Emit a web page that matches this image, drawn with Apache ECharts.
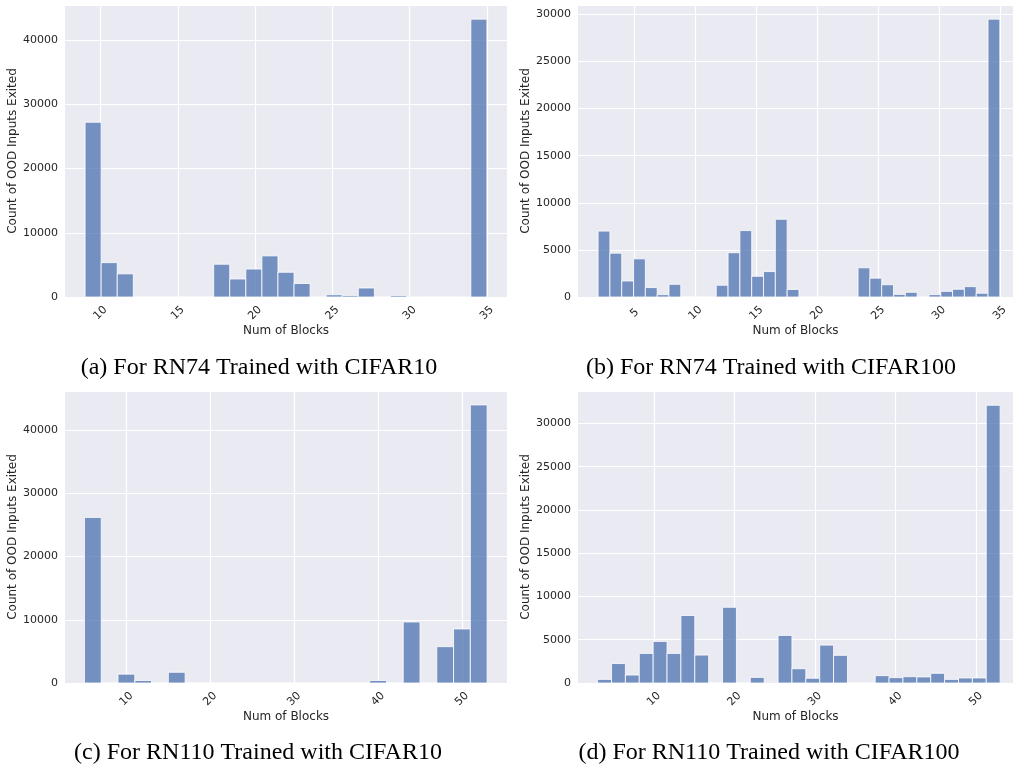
<!DOCTYPE html>
<html>
<head>
<meta charset="utf-8">
<script src="https://cdn.jsdelivr.net/npm/echarts@6/dist/echarts.min.js"></script>
<style>
  html, body { margin: 0; padding: 0; background: #fff; }
  #chart { width: 1013px; height: 770px; }
</style>
</head>
<body>
<div id="chart"></div>
<script>
// histogram bins: first edge and bin width per panel
var binStartA = 9, binWidthA = 26 / 25
var binStartB = 2, binWidthB = 33 / 34
var binStartC = 5, binWidthC = 2
var binStartD = 3, binWidthD = 50 / 29

// counts per bin
var countsA = [27200, 5350, 3600, 0, 0, 0, 0, 0, 5100, 2800, 4350, 6400, 3850, 2100,
  50, 350, 250, 1400, 0, 250, 60, 0, 0, 30, 43250]
var countsB = [7000, 4650, 1700, 4050, 1000, 250, 1350, 0, 0, 0, 1250, 4700, 7050, 2200,
  2700, 8250, 800, 0, 0, 0, 0, 0, 3100, 2000, 1300, 280, 500, 0, 250, 600, 820, 1100, 400, 29500]
var countsC = [26200, 0, 1400, 400, 0, 1700, 0, 0, 0, 0, 0, 0, 0, 0, 0, 0, 0, 400, 0,
  9650, 0, 5750, 8550, 44000]
var countsD = [420, 2250, 920, 3420, 4800, 3420, 7800, 3230, 0, 8750, 0, 650, 80, 5500,
  1650, 550, 4380, 3200, 0, 0, 850, 620, 730, 700, 1120, 420, 580, 580, 32100]

// tick labels
var xTicksA = [10, 15, 20, 25, 30, 35]
var xTicksB = [5, 10, 15, 20, 25, 30, 35]
var xTicksC = [10, 20, 30, 40, 50]
var xTicksD = [10, 20, 30, 40, 50]

var captions = [
  '(a) For RN74 Trained with CIFAR10',
  '(b) For RN74 Trained with CIFAR100',
  '(c) For RN110 Trained with CIFAR10',
  '(d) For RN110 Trained with CIFAR100'
]

var textColor = '#262626'
var font = 'DejaVu Sans'
var captionFont = '24px "Liberation Serif"'

function bins (start, width, counts) {
  var out = []
  for (var i = 0; i < counts.length; i++) {
    out.push([start + width * i, start + width * (i + 1), counts[i]])
  }
  return out
}

function renderBar (params, api) {
  var p0 = api.coord([api.value(0), api.value(2)])
  var p1 = api.coord([api.value(1), 0])
  return {
    type: 'rect',
    shape: { x: p0[0], y: p0[1], width: p1[0] - p0[0], height: p1[1] - p0[1] },
    style: { fill: 'rgba(76,114,176,0.75)', stroke: '#ffffff', lineWidth: 0.8 }
  }
}

var grids = [
  { left: 65, top: 5, width: 442, height: 292 },
  { left: 578, top: 5, width: 435, height: 292 },
  { left: 65, top: 391, width: 442, height: 292 },
  { left: 578, top: 391, width: 435, height: 292 }
]
grids.forEach(function (g) {
  g.show = true
  g.backgroundColor = '#EAEAF2'
  g.borderWidth = 0
  g.containLabel = false
})

function xAxis (idx, min, max, ticks) {
  return {
    type: 'value',
    gridIndex: idx,
    min: min,
    max: max,
    name: 'Num of Blocks',
    nameLocation: 'middle',
    nameGap: 28,
    nameTextStyle: { fontFamily: font, fontSize: 12, color: textColor },
    axisLine: { show: false },
    axisTick: { show: false, customValues: ticks },
    axisLabel: {
      customValues: ticks,
      rotate: 45,
      align: 'center',
      verticalAlign: 'middle',
      margin: 16,
      fontFamily: font,
      fontSize: 11,
      color: textColor
    },
    splitLine: { show: true, lineStyle: { color: '#ffffff', width: 1.2 } }
  }
}

function yAxis (idx, max, interval) {
  return {
    type: 'value',
    gridIndex: idx,
    min: 0,
    max: max,
    interval: interval,
    name: 'Count of OOD Inputs Exited',
    nameLocation: 'middle',
    nameRotate: 90,
    nameGap: 37,
    nameTextStyle: { fontFamily: font, fontSize: 12, color: textColor },
    axisLine: { show: false },
    axisTick: { show: false },
    axisLabel: {
      showMaxLabel: false,
      margin: 7,
      fontFamily: font,
      fontSize: 11,
      color: textColor,
      formatter: function (v) { return String(v) }
    },
    splitLine: { show: true, lineStyle: { color: '#ffffff', width: 1.2 } }
  }
}

var chart = echarts.init(document.getElementById('chart'), null, { renderer: 'canvas' })
chart.setOption({
  animation: false,
  backgroundColor: '#ffffff',
  grid: grids,
  xAxis: [
    xAxis(0, 7.7, 36.3, xTicksA),
    xAxis(1, 0.35, 36.08, xTicksB),
    xAxis(2, 2.68, 55.37, xTicksC),
    xAxis(3, 0.56, 54.6, xTicksD)
  ],
  yAxis: [
    yAxis(0, 45450, 10000),
    yAxis(1, 31000, 5000),
    yAxis(2, 46200, 10000),
    yAxis(3, 33750, 5000)
  ],
  series: [
    { type: 'custom', xAxisIndex: 0, yAxisIndex: 0, renderItem: renderBar, data: bins(binStartA, binWidthA, countsA) },
    { type: 'custom', xAxisIndex: 1, yAxisIndex: 1, renderItem: renderBar, data: bins(binStartB, binWidthB, countsB) },
    { type: 'custom', xAxisIndex: 2, yAxisIndex: 2, renderItem: renderBar, data: bins(binStartC, binWidthC, countsC) },
    { type: 'custom', xAxisIndex: 3, yAxisIndex: 3, renderItem: renderBar, data: bins(binStartD, binWidthD, countsD) }
  ],
  graphic: [
    { type: 'text', x: 259, y: 368, style: { text: captions[0], font: captionFont, fill: '#000', align: 'center', verticalAlign: 'middle' } },
    { type: 'text', x: 771, y: 368, style: { text: captions[1], font: captionFont, fill: '#000', align: 'center', verticalAlign: 'middle' } },
    { type: 'text', x: 258, y: 753, style: { text: captions[2], font: captionFont, fill: '#000', align: 'center', verticalAlign: 'middle' } },
    { type: 'text', x: 769, y: 753, style: { text: captions[3], font: captionFont, fill: '#000', align: 'center', verticalAlign: 'middle' } }
  ]
})
</script>
</body>
</html>
